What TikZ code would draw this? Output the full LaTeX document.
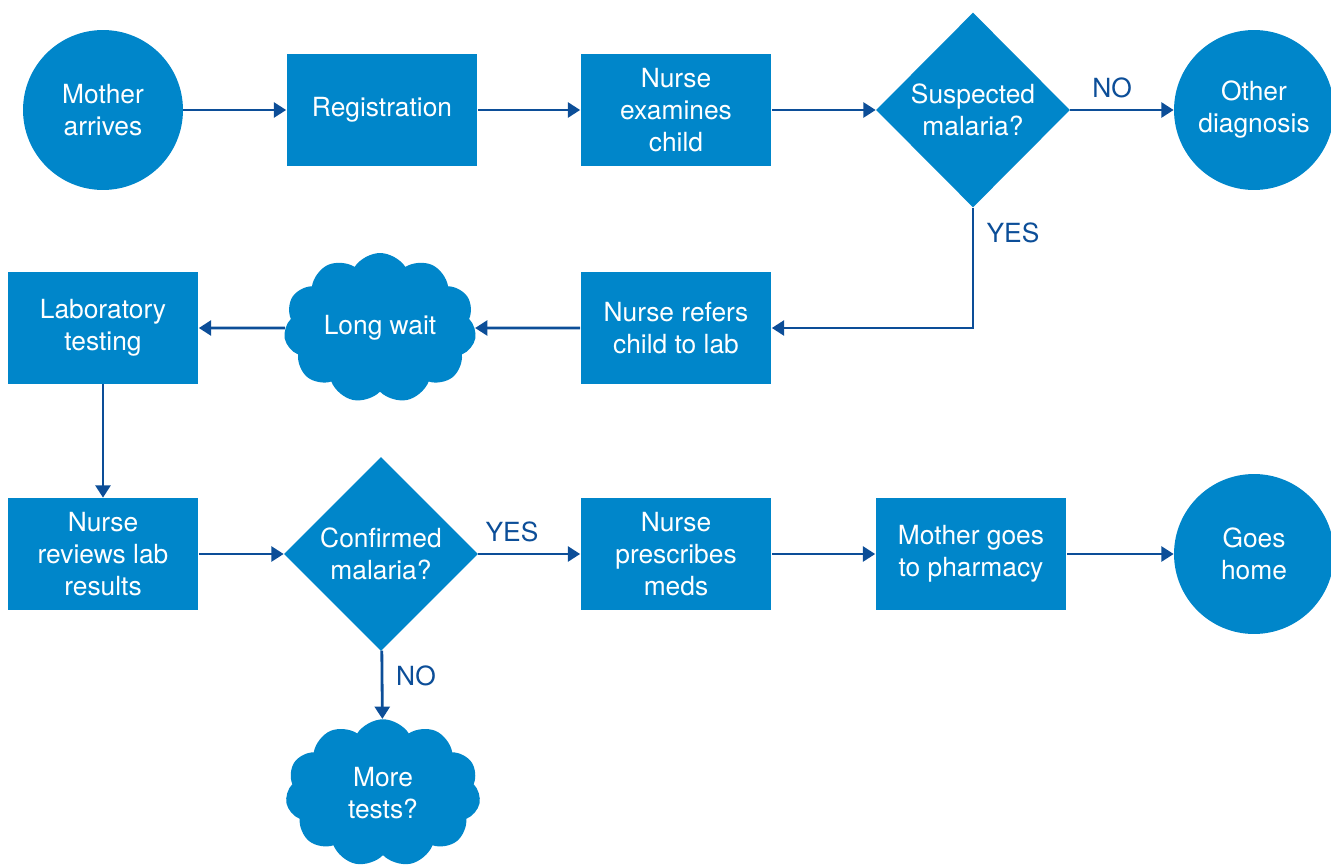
\documentclass[tikz,border=0pt]{standalone}
\usepackage{fontspec}
\setmainfont{TeX Gyre Heros}
\usepackage{xcolor}
\usepackage{tikz}
\usetikzlibrary{arrows.meta}
\usetikzlibrary{shapes}

\definecolor{boxblue}{RGB}{0,134,202}
\definecolor{lineblue}{RGB}{12,78,152}

\begin{document}
\begin{tikzpicture}[x=0.02cm,y=-0.02cm]
      \useasboundingbox (0,0) rectangle (1331,865);
      \begin{scope}[every node/.style={fill=boxblue,text=white,align=center,inner sep=0pt,
          font=\fontsize{15}{18.2}\selectfont}]
        \node[circle,minimum size=3.2cm] (mother) at (103,110) {Mother\\arrives};
        \node[rectangle,minimum width=3.82cm,minimum height=2.24cm] (reg) at (382,110) {Registration};
        \node[rectangle,minimum width=3.82cm,minimum height=2.24cm] (exam) at (676,110) {Nurse\\examines\\child};
        \node[diamond,minimum width=3.88cm,minimum height=3.9cm] (susp) at (973,110) {Suspected\\malaria?};
        \node[circle,minimum size=3.2cm] (other) at (1254,110) {Other\\diagnosis};
        \node[rectangle,minimum width=3.82cm,minimum height=2.24cm] (refer) at (676,328) {Nurse refers\\child to lab};
        \node[cloud,cloud puffs=11,cloud puff arc=115,aspect=1.3,minimum width=3.85cm,minimum height=3.0cm] (wait) at (380,328) {Long wait};
        \node[rectangle,minimum width=3.82cm,minimum height=2.24cm] (lab) at (103,328) {Laboratory\\testing};
        \node[rectangle,minimum width=3.82cm,minimum height=2.24cm] (review) at (103,554) {Nurse\\reviews lab\\results};
        \node[diamond,minimum width=3.88cm,minimum height=3.88cm] (conf) at (381,554) {Confirmed\\malaria?};
        \node[rectangle,minimum width=3.82cm,minimum height=2.24cm] (presc) at (676,554) {Nurse\\prescribes\\meds};
        \node[rectangle,minimum width=3.82cm,minimum height=2.24cm] (pharm) at (971,554) {Mother goes\\to pharmacy};
        \node[circle,minimum size=3.2cm] (home) at (1254,554) {Goes\\home};
        \node[cloud,cloud puffs=11,cloud puff arc=115,aspect=1.3,minimum width=3.9cm,minimum height=2.95cm] (more) at (383,793) {More\\tests?};
      \end{scope}
      \begin{scope}[every node/.style={text=lineblue,font=\fontsize{15}{18}\selectfont}]
        \node (no1) at (1112,88) {NO};
        \node (yes1) at (1013,233) {YES};
        \node (yes2) at (512,532) {YES};
        \node (no2) at (416,676) {NO};
      \end{scope}
      \begin{scope}[every edge/.style={draw=lineblue,line width=1.6pt,-{Triangle[length=7pt,width=8.5pt]}}]
        \path (mother) edge (reg);
        \path (reg) edge (exam);
        \path (exam) edge (susp);
        \path (susp) edge (other);
        \path (refer) edge (wait);
        \path (wait) edge (lab);
        \path (lab) edge (review);
        \path (review) edge (conf);
        \path (conf) edge (presc);
        \path (presc) edge (pharm);
        \path (pharm) edge (home);
        \path (conf) edge (more);
      \end{scope}
      \draw[draw=lineblue,line width=1.6pt,-{Triangle[length=7pt,width=8.5pt]}] (susp.south) |- (refer.east);
    \end{tikzpicture}
\end{document}
